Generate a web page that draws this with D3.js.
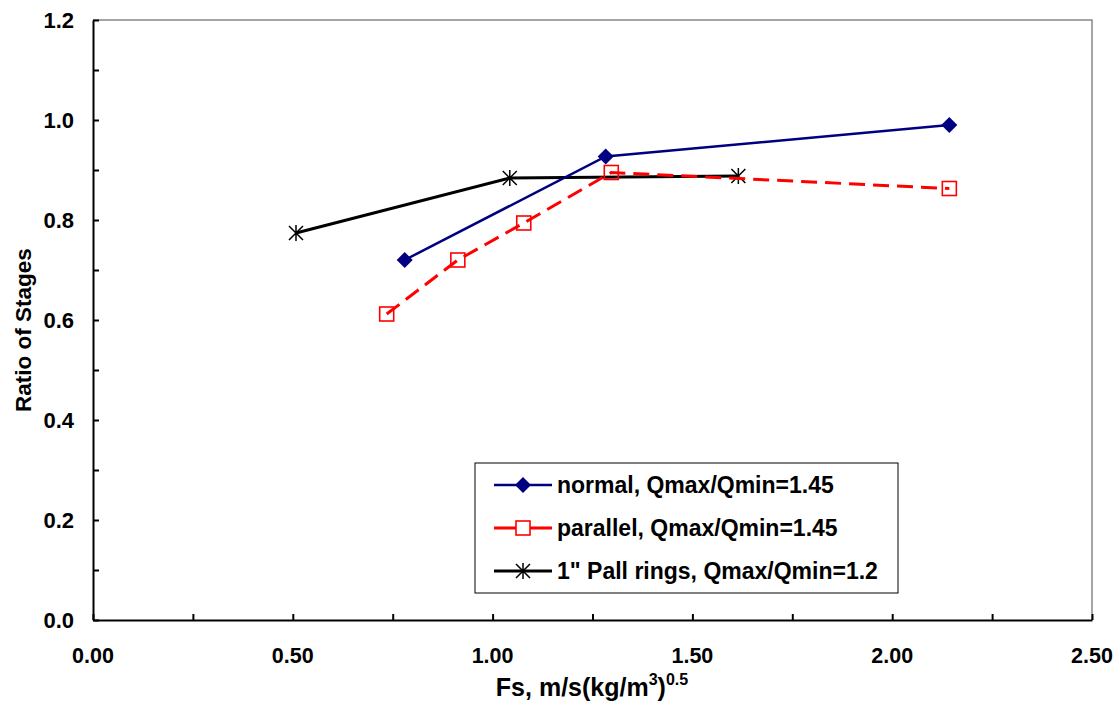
<!DOCTYPE html>
<html lang="en">
<head>
<meta charset="UTF-8">
<title>Ratio of Stages</title>
<script src="https://d3js.org/d3.v7.min.js"></script>
<style>
    body { margin: 0; background: #fff; }
    text { font-family: "Liberation Sans", Arial, sans-serif; font-weight: bold; }
</style>
</head>
<body>
<svg width="1120" height="709"></svg>
<script>
    // data
    const normalX = [0.78, 1.283, 2.143];
    const normalY = [0.72, 0.927, 0.99];
    const parallelX = [0.735, 0.913, 1.078, 1.297, 2.143];
    const parallelY = [0.612, 0.72, 0.794, 0.895, 0.863];
    const pallX = [0.508, 1.043, 1.615];
    const pallY = [0.774, 0.884, 0.888];
    const legendLabels = ["normal, Qmax/Qmin=1.45", "parallel, Qmax/Qmin=1.45", "1\" Pall rings, Qmax/Qmin=1.2"];
    const xTicks = [0, 0.5, 1.0, 1.5, 2.0, 2.5];
    const yTicks = [0, 0.2, 0.4, 0.6, 0.8, 1.0, 1.2];

    const plotLeft = 93, plotRight = 1092, plotTop = 20, plotBottom = 620;
    const svg = d3.select("svg");

    const x = d3.scaleLinear().domain([0, 2.5]).range([plotLeft, plotRight]);
    const y = d3.scaleLinear().domain([0, 1.2]).range([plotBottom, plotTop]);

    // top and right frame
    svg.append("path")
        .attr("d", `M${plotLeft},${plotTop}H${plotRight}V${plotBottom}`)
        .attr("fill", "none").attr("stroke", "#888").attr("stroke-width", 1.5);

    // axes with inward ticks
    const xAxis = d3.axisBottom(x).tickValues(d3.range(0, 2.51, 0.25))
        .tickSizeInner(-6).tickSizeOuter(0).tickFormat("");
    const yAxis = d3.axisLeft(y).tickValues(d3.range(0, 1.21, 0.1))
        .tickSizeInner(-6).tickSizeOuter(0).tickFormat("");
    svg.append("g").attr("transform", `translate(0,${plotBottom})`).call(xAxis)
        .call(g => g.selectAll("line,path").attr("stroke", "#000").attr("stroke-width", 2));
    svg.append("g").attr("transform", `translate(${plotLeft},0)`).call(yAxis)
        .call(g => g.selectAll("line,path").attr("stroke", "#000").attr("stroke-width", 2));

    svg.append("g").selectAll("text").data(xTicks).join("text")
        .attr("x", d => x(d)).attr("y", 663)
        .attr("text-anchor", "middle").attr("font-size", 21.5)
        .text(d => d.toFixed(2));
    svg.append("g").selectAll("text").data(yTicks).join("text")
        .attr("x", 74).attr("y", d => y(d) + 8)
        .attr("text-anchor", "end").attr("font-size", 22)
        .text(d => d.toFixed(1));

    // axis titles
    const xt = svg.append("text").attr("x", 592).attr("y", 696)
        .attr("text-anchor", "middle").attr("font-size", 25);
    xt.append("tspan").text("Fs, m/s(kg/m");
    xt.append("tspan").attr("font-size", 16).attr("dy", -11).text("3");
    xt.append("tspan").attr("dy", 11).text(")");
    xt.append("tspan").attr("font-size", 16).attr("dy", -11).text("0.5");

    svg.append("text").attr("transform", "translate(31,330) rotate(-90)")
        .attr("text-anchor", "middle").attr("font-size", 22.5)
        .text("Ratio of Stages");

    const line = d3.line().x(d => x(d[0])).y(d => y(d[1]));
    const normal = normalX.map((v, i) => [v, normalY[i]]);
    const parallel = parallelX.map((v, i) => [v, parallelY[i]]);
    const pall = pallX.map((v, i) => [v, pallY[i]]);

    const series = [
        { data: pall, color: "#000", width: 3, dash: null, marker: "star" },
        { data: normal, color: "#000080", width: 2.5, dash: null, marker: "diamond" },
        { data: parallel, color: "#ff0000", width: 3, dash: "16,8", marker: "square" }
    ];

    function drawMarker(g, type, color, fill) {
        if (type === "diamond") {
            g.append("path").attr("d", "M0,-8L8,0L0,8L-8,0Z").attr("fill", color);
        } else if (type === "square") {
            g.append("rect").attr("x", -7).attr("y", -7).attr("width", 14).attr("height", 14)
                .attr("fill", fill || "none").attr("stroke", color).attr("stroke-width", 1.6);
        } else {
            g.append("path").attr("d", "M0,-8V8M-7,-7L7,7M-7,7L7,-7")
                .attr("stroke", color).attr("stroke-width", 1.5);
        }
    }

    series.forEach(s => {
        svg.append("path").datum(s.data).attr("d", line)
            .attr("fill", "none").attr("stroke", s.color).attr("stroke-width", s.width)
            .attr("stroke-dasharray", s.dash);
        s.data.forEach(d => {
            drawMarker(svg.append("g").attr("transform", `translate(${x(d[0])},${y(d[1])})`), s.marker, s.color);
        });
    });

    // legend
    const legend = svg.append("g");
    legend.append("rect").attr("x", 475).attr("y", 463).attr("width", 423).attr("height", 130)
        .attr("fill", "#fff").attr("stroke", "#000").attr("stroke-width", 1);
    const legendOrder = [series[1], series[2], series[0]];
    legendOrder.forEach((s, i) => {
        const ly = 485 + i * 43;
        legend.append("line").attr("x1", 494).attr("x2", 552).attr("y1", ly).attr("y2", ly)
            .attr("stroke", s.color).attr("stroke-width", s.width);
        drawMarker(legend.append("g").attr("transform", `translate(523,${ly})`), s.marker, s.color, "#fff");
        legend.append("text").attr("x", 557).attr("y", ly + 8).attr("font-size", 23)
            .text(legendLabels[i]);
    });
</script>
</body>
</html>
